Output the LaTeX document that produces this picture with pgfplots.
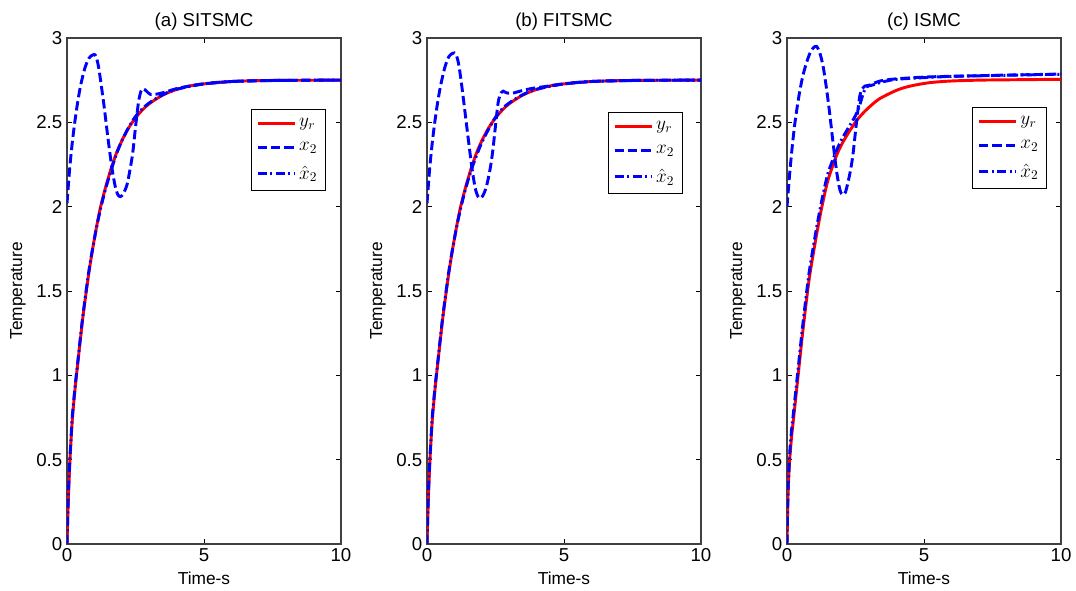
\documentclass[border=0pt]{standalone}
\usepackage{fontspec}
\setmainfont{Liberation Sans}
\usepackage{pgfplots}
\pgfplotsset{compat=1.18}

\pgfplotsset{
  panel/.style={
    scale only axis, width=205.5pt, height=379.5pt,
    xmin=0, xmax=10, ymin=0, ymax=3,
    xtick={0,5,10}, ytick={0,0.5,1,1.5,2,2.5,3},
    tick align=inside, major tick length=4pt,
    every tick/.style={black, line width=0.6pt},
    axis line style={black!75, line width=0.8pt},
    /pgf/number format/assume math mode=true,
    tick label style={font=\fontsize{14}{16}\selectfont},
    label style={font=\fontsize{13}{15}\selectfont},
    title style={font=\fontsize{14}{16}\selectfont, at={(axis description cs:0.5,1.016)}, anchor=center, yshift=0pt},
    xlabel={Time-s}, ylabel={Temperature},
    xlabel style={at={(axis description cs:0.5,-0.067)}, anchor=center},
    ylabel style={at={(axis description cs:-0.179,0.5)}, anchor=center},
    legend cell align=left,
    legend style={draw=black, line width=0.6pt, font=\fontsize{14}{16}\selectfont,
      anchor=north west, row sep=6pt, inner xsep=4pt, inner ysep=5pt},
    legend image code/.code={\draw[##1] (0pt,0pt) -- (28pt,0pt);},
  },
  yr/.style={red, line width=2.2pt, smooth},
  xt/.style={blue, line width=2.2pt, dash pattern=on 7pt off 3pt, smooth},
  xh/.style={blue, line width=2.2pt, dash pattern=on 7pt off 2.5pt on 1.5pt off 2.5pt, smooth},
}

\begin{document}
\begin{tikzpicture}
% (a)
\begin{axis}[panel, at={(0pt,0pt)}, anchor=south west, title={(a) SITSMC},
  legend style={at={(0.67,0.86)}}]
\addplot[yr] coordinates {(0,0)(0.05,0.27)(0.1,0.47)(0.15,0.62)(0.2,0.75)(0.3,0.93)(0.4,1.08)(0.5,1.23)(0.6,1.37)(0.8,1.61)(1.0,1.81)(1.2,1.98)(1.4,2.11)(1.6,2.22)(1.8,2.315)(2.0,2.39)(2.25,2.467)(2.5,2.526)(2.75,2.573)(3.0,2.61)(3.5,2.662)(4.0,2.695)(4.5,2.716)(5.0,2.728)(6.0,2.742)(7.0,2.747)(8.0,2.749)(10,2.75)};
\addplot[xt] coordinates {(0,2.02)(0.1,2.23)(0.2,2.39)(0.3,2.52)(0.4,2.63)(0.5,2.72)(0.65,2.82)(0.8,2.88)(0.95,2.90)(1.05,2.895)(1.15,2.83)(1.25,2.72)(1.35,2.60)(1.5,2.40)(1.64,2.23)(1.76,2.12)(1.86,2.07)(1.95,2.06)(2.05,2.075)(2.19,2.13)(2.3,2.22)(2.4,2.32)(2.5,2.47)(2.61,2.62)(2.7,2.685)(2.78,2.70)(2.9,2.685)(3.05,2.665)(3.3,2.668)(3.6,2.68)(4,2.70)(4.5,2.716)(5,2.728)(6,2.742)(7,2.747)(8,2.749)(10,2.75)};
\addplot[xh] coordinates {(0,0)(0.05,0.29)(0.1,0.49)(0.15,0.64)(0.2,0.77)(0.3,0.94)(0.4,1.09)(0.5,1.24)(0.6,1.38)(0.8,1.62)(1.0,1.81)(1.2,1.97)(1.4,2.10)(1.6,2.21)(1.8,2.31)(2.0,2.39)(2.25,2.47)(2.5,2.535)(2.75,2.58)(3.0,2.615)(3.5,2.664)(4,2.696)(5,2.728)(6,2.742)(8,2.749)(10,2.75)};
\legend{$y_r$, $x_2$, $\hat{x}_2$}
\end{axis}
% (b)
\begin{axis}[panel, at={(270pt,0pt)}, anchor=south west, title={(b) FITSMC},
  legend style={at={(0.659,0.854)}}]
\addplot[yr] coordinates {(0,0)(0.05,0.27)(0.1,0.47)(0.15,0.62)(0.2,0.75)(0.3,0.93)(0.4,1.08)(0.5,1.23)(0.6,1.37)(0.8,1.61)(1.0,1.81)(1.2,1.98)(1.4,2.11)(1.6,2.22)(1.8,2.315)(2.0,2.39)(2.25,2.467)(2.5,2.526)(2.75,2.573)(3.0,2.61)(3.5,2.662)(4.0,2.695)(4.5,2.716)(5.0,2.728)(6.0,2.742)(7.0,2.747)(8.0,2.749)(10,2.75)};
\addplot[xt] coordinates {(0,2.02)(0.1,2.23)(0.2,2.39)(0.3,2.52)(0.4,2.63)(0.5,2.72)(0.65,2.825)(0.8,2.89)(0.95,2.91)(1.05,2.905)(1.15,2.85)(1.25,2.74)(1.35,2.61)(1.5,2.41)(1.64,2.23)(1.76,2.11)(1.86,2.06)(1.94,2.05)(2.04,2.065)(2.17,2.12)(2.3,2.22)(2.4,2.33)(2.5,2.48)(2.6,2.62)(2.7,2.675)(2.78,2.685)(2.9,2.675)(3.1,2.672)(3.4,2.685)(3.8,2.70)(4.3,2.712)(5,2.728)(6,2.742)(7,2.747)(8,2.749)(10,2.75)};
\addplot[xh] coordinates {(0,0)(0.05,0.29)(0.1,0.49)(0.15,0.64)(0.2,0.77)(0.3,0.94)(0.4,1.09)(0.5,1.24)(0.6,1.38)(0.8,1.62)(1.0,1.81)(1.2,1.97)(1.4,2.10)(1.6,2.21)(1.8,2.30)(2.0,2.38)(2.25,2.46)(2.5,2.53)(2.75,2.58)(3.0,2.615)(3.5,2.664)(4,2.696)(5,2.728)(6,2.742)(8,2.749)(10,2.75)};
\legend{$y_r$, $x_2$, $\hat{x}_2$}
\end{axis}
% (c)
\begin{axis}[panel, at={(540pt,0pt)}, anchor=south west, title={(c) ISMC},
  legend style={at={(0.674,0.864)}}]
\addplot[yr] coordinates {(0,0)(0.04,0.3)(0.1,0.5)(0.17,0.64)(0.25,0.76)(0.4,0.99)(0.57,1.25)(0.8,1.56)(1.0,1.76)(1.13,1.88)(1.3,2.02)(1.5,2.16)(1.8,2.30)(2.0,2.37)(2.25,2.44)(2.54,2.51)(2.75,2.55)(3.0,2.59)(3.38,2.64)(4,2.69)(4.5,2.715)(5.2,2.735)(6,2.745)(7,2.75)(8,2.752)(10,2.755)};
\addplot[xt] coordinates {(0,2.0)(0.1,2.2)(0.2,2.37)(0.3,2.51)(0.45,2.67)(0.6,2.79)(0.8,2.895)(0.95,2.94)(1.08,2.95)(1.2,2.91)(1.32,2.83)(1.45,2.69)(1.56,2.55)(1.68,2.38)(1.81,2.21)(1.93,2.10)(2.04,2.07)(2.13,2.085)(2.22,2.14)(2.31,2.21)(2.4,2.30)(2.53,2.49)(2.65,2.65)(2.75,2.70)(2.84,2.715)(3.0,2.72)(3.4,2.745)(4,2.758)(5,2.768)(6,2.773)(8,2.78)(10,2.786)};
\addplot[xh] coordinates {(0,0)(0.04,0.33)(0.1,0.54)(0.17,0.68)(0.25,0.80)(0.4,1.03)(0.57,1.29)(0.8,1.60)(1.0,1.80)(1.13,1.92)(1.3,2.06)(1.5,2.20)(1.8,2.33)(2.0,2.40)(2.25,2.47)(2.5,2.54)(2.65,2.60)(2.78,2.67)(2.9,2.71)(3.1,2.72)(3.5,2.74)(4,2.755)(5,2.765)(6,2.772)(8,2.779)(10,2.785)};
\legend{$y_r$, $x_2$, $\hat{x}_2$}
\end{axis}
\pgfresetboundingbox
\path (-50.25pt,-35.25pt) rectangle (756.75pt,408pt);
\end{tikzpicture}
\end{document}
